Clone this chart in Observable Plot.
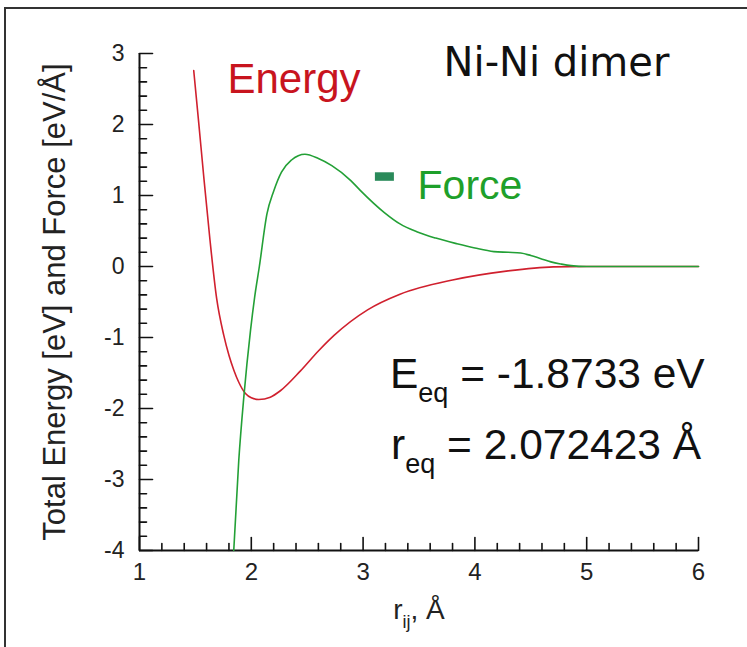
<!DOCTYPE html>
<html>
<head>
<meta charset="utf-8">
<script src="https://cdn.jsdelivr.net/npm/d3@7"></script>
<script src="https://cdn.jsdelivr.net/npm/@observablehq/plot@0.6"></script>
<style>
  html, body { margin: 0; padding: 0; background: #fff; }
  #wrap { position: relative; width: 747px; height: 647px; overflow: hidden; background: #fff; }
  #frame { position: absolute; left: 4px; top: 7px; width: 900px; height: 900px;
           border-left: 2px solid #333; border-top: 2px solid #333; }
  #chart { position: absolute; left: 0; top: 0; }
</style>
</head>
<body>
<div id="wrap"><div id="frame"></div><div id="chart"></div></div>
<script>
// Energy curve (r in Å, E in eV)
const rEnergy = [1.485, 1.53, 1.575, 1.63, 1.69, 1.754, 1.80, 1.844, 1.888, 1.948, 2.0, 2.067, 2.17, 2.26, 2.44, 2.6, 2.74, 3.04, 3.33, 3.8, 4.28, 4.7, 5.0, 6.0];
const energy  = [2.76, 2.02, 1.26, 0.38, -0.45, -0.97, -1.25, -1.46, -1.63, -1.79, -1.85, -1.873, -1.84, -1.75, -1.47, -1.19, -0.97, -0.61, -0.39, -0.19, -0.065, -0.005, 0, 0];

// Force curve (r in Å, F in eV/Å)
const rForce = [1.843, 1.888, 1.933, 1.993, 2.03, 2.072, 2.14, 2.2, 2.27, 2.36, 2.42, 2.48, 2.6, 2.72, 2.89, 2.97, 3.19, 3.33, 3.48, 3.65, 3.84, 4.0, 4.17, 4.3, 4.41, 4.5, 4.59, 4.68, 4.77, 4.86, 5.0, 6.0];
const force  = [-4.0, -2.73, -1.84, -0.90, -0.43, 0, 0.74, 1.06, 1.33, 1.50, 1.56, 1.58, 1.52, 1.42, 1.21, 1.08, 0.76, 0.60, 0.49, 0.40, 0.32, 0.26, 0.21, 0.20, 0.19, 0.155, 0.11, 0.065, 0.035, 0.012, 0, 0];

const xTicks = [1, 2, 3, 4, 5, 6];
const yTicks = [-4, -3, -2, -1, 0, 1, 2, 3];
const xTickLabels = ["1", "2", "3", "4", "5", "6"];
const yTickLabels = ["-4", "-3", "-2", "-1", "0", "1", "2", "3"];
const xMinor = d3.range(1, 6.001, 0.2).map(v => +v.toFixed(1)).filter(v => !xTicks.includes(v));
const yMinor = d3.range(-4, 3.001, 0.2).map(v => +v.toFixed(1)).filter(v => !yTicks.includes(v));

const energyData = rEnergy.map((r, i) => ({r, v: energy[i]}));
const forceData = rForce.map((r, i) => ({r, v: force[i]}));

const tickShape = { draw(context, l) { context.moveTo(0, 0); context.lineTo(0, -l); } };
const RED = "#d0202e", GREEN = "#23a036";
const FONT = "'Liberation Sans', Arial, Helvetica, sans-serif";

const chart = Plot.plot({
  width: 747, height: 647,
  marginLeft: 139, marginRight: 49, marginTop: 53, marginBottom: 97,
  x: {domain: [1, 6], axis: null},
  y: {domain: [-4, 3], axis: null},
  style: {background: "transparent", fontFamily: FONT, color: "#111"},
  marks: [
    // axis lines
    Plot.ruleY([-4], {stroke: "#111", strokeWidth: 2}),
    Plot.ruleX([1], {stroke: "#111", strokeWidth: 2}),
    // ticks (inward)
    Plot.vector(xTicks, {x: d => d, y: -4, length: 13, rotate: 0, anchor: "start", shape: tickShape, stroke: "#111", strokeWidth: 1.6}),
    Plot.vector(xMinor, {x: d => d, y: -4, length: 7, rotate: 0, anchor: "start", shape: tickShape, stroke: "#111", strokeWidth: 1.6}),
    Plot.vector(yTicks, {x: 1, y: d => d, length: 13, rotate: 90, anchor: "start", shape: tickShape, stroke: "#111", strokeWidth: 1.6}),
    Plot.vector(yMinor, {x: 1, y: d => d, length: 7, rotate: 90, anchor: "start", shape: tickShape, stroke: "#111", strokeWidth: 1.6}),
    // tick labels
    Plot.text(xTicks, {x: d => d, y: -4, text: (d, i) => xTickLabels[i], dy: 22, fontSize: 24, fill: "#222", lineAnchor: "middle"}),
    Plot.text(yTicks, {x: 1, y: d => d, text: (d, i) => yTickLabels[i], dx: -15, textAnchor: "end", fontSize: 23, fill: "#222", lineAnchor: "middle"}),
    // axis labels
    Plot.text(["Total Energy [eV] and Force [eV/Å]"], {frameAnchor: "left", dx: -84, rotate: -90, textAnchor: "middle", fontSize: 31, fill: "#222", lineAnchor: "middle"}),
    Plot.text(["r_ij, Å"], {frameAnchor: "bottom", dy: 60, textAnchor: "middle", fontSize: 28, fill: "#222", lineAnchor: "middle"}),
    // curves
    Plot.line(energyData, {x: "r", y: "v", stroke: RED, strokeWidth: 1.6, curve: "monotone-x"}),
    Plot.line(forceData, {x: "r", y: "v", stroke: GREEN, strokeWidth: 1.6, curve: "monotone-x"}),
    // annotations
    Plot.text(["Energy"], {x: 1.787, y: 2.635, textAnchor: "start", fontSize: 42, fill: "#c8141e", lineAnchor: "middle"}),
    Plot.rect([0], {x1: 3.11, x2: 3.28, y1: 1.20, y2: 1.32, fill: "#2a8a5a"}),
    Plot.text(["Force"], {x: 3.487, y: 1.142, textAnchor: "start", fontSize: 41, fill: "#1ea02a", lineAnchor: "middle"}),
    Plot.text(["Ni-Ni dimer"], {x: 3.72, y: 2.87, textAnchor: "start", fontSize: 40, fill: "#111", fontFamily: "'DejaVu Sans', sans-serif", lineAnchor: "middle"}),
    Plot.text(["E_eq = -1.8733 eV"], {x: 3.24, y: -1.516, textAnchor: "start", fontSize: 42.5, fill: "#111", lineAnchor: "middle"}),
    Plot.text(["r_eq = 2.072423 Å"], {x: 3.25, y: -2.516, textAnchor: "start", fontSize: 42.5, fill: "#111", lineAnchor: "middle"})
  ]
});

// turn "X_sub rest" text into real subscript tspans
function subscriptify(svg, raw, subSize, shift) {
  svg.querySelectorAll("text").forEach(t => {
    if (t.textContent !== raw) return;
    const m = raw.match(/^([^_]+)_(\w+)(.*)$/);
    t.textContent = "";
    const ns = "http://www.w3.org/2000/svg";
    const a = document.createElementNS(ns, "tspan"); a.textContent = m[1]; t.appendChild(a);
    const b = document.createElementNS(ns, "tspan"); b.textContent = m[2];
    b.setAttribute("font-size", subSize); b.setAttribute("dy", shift); t.appendChild(b);
    const c = document.createElementNS(ns, "tspan"); c.textContent = m[3];
    c.setAttribute("dy", -shift); t.appendChild(c);
  });
}
subscriptify(chart, "E_eq = -1.8733 eV", 27, 14);
subscriptify(chart, "r_eq = 2.072423 Å", 27, 14);
subscriptify(chart, "r_ij, Å", 18, 9);

document.getElementById("chart").appendChild(chart);
</script>
</body>
</html>
